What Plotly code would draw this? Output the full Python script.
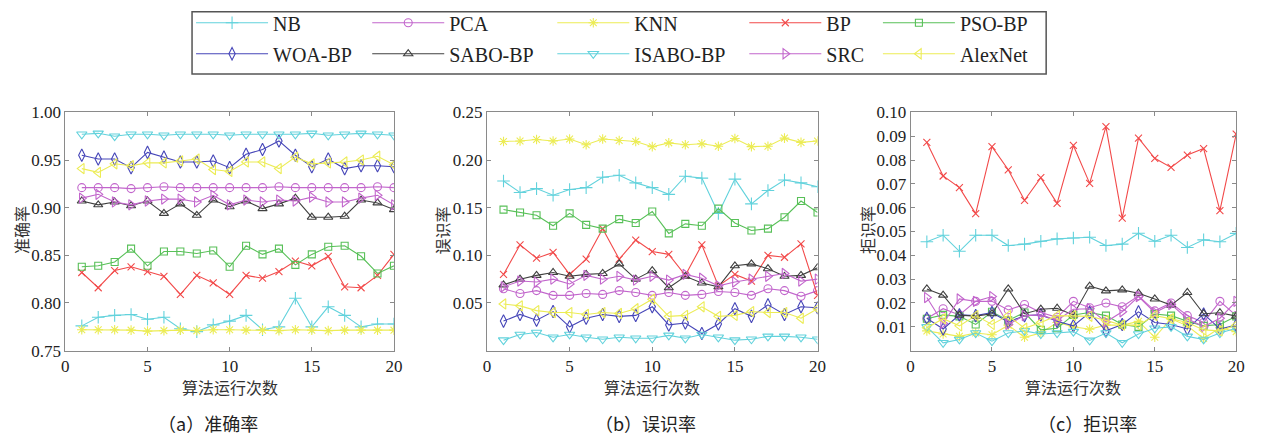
import plotly.graph_objects as go

x_runs = list(range(1, 21))
x_ticks = [0, 5, 10, 15, 20]
x_ticktext = ["0", "5", "10", "15", "20"]
names = ["NB", "PCA", "KNN", "BP", "PSO-BP", "WOA-BP", "SABO-BP", "ISABO-BP", "SRC", "AlexNet"]

# (a) accuracy
acc_NB = [0.776, 0.785, 0.787, 0.788, 0.783, 0.785, 0.773, 0.770, 0.777, 0.781, 0.787, 0.772, 0.775, 0.805, 0.775, 0.796, 0.787, 0.775, 0.778, 0.778]
acc_PCA = [0.921, 0.921, 0.921, 0.920, 0.921, 0.922, 0.921, 0.921, 0.921, 0.921, 0.921, 0.921, 0.922, 0.921, 0.921, 0.921, 0.921, 0.921, 0.922, 0.921]
acc_KNN = [0.772, 0.772, 0.772, 0.7715, 0.7705, 0.771, 0.7715, 0.771, 0.772, 0.772, 0.7715, 0.7715, 0.771, 0.772, 0.7715, 0.771, 0.7715, 0.7715, 0.7715, 0.7715]
acc_BP = [0.832, 0.816, 0.834, 0.838, 0.833, 0.828, 0.809, 0.829, 0.821, 0.809, 0.829, 0.826, 0.833, 0.844, 0.839, 0.849, 0.817, 0.816, 0.829, 0.851]
acc_PSO = [0.838, 0.839, 0.843, 0.857, 0.839, 0.854, 0.854, 0.852, 0.855, 0.838, 0.860, 0.851, 0.857, 0.840, 0.851, 0.859, 0.860, 0.849, 0.831, 0.839]
acc_WOA = [0.955, 0.951, 0.951, 0.942, 0.958, 0.953, 0.948, 0.948, 0.949, 0.942, 0.956, 0.961, 0.970, 0.955, 0.943, 0.951, 0.941, 0.944, 0.944, 0.943]
acc_SABO = [0.907, 0.903, 0.906, 0.902, 0.907, 0.894, 0.904, 0.892, 0.908, 0.901, 0.907, 0.899, 0.904, 0.910, 0.890, 0.890, 0.891, 0.908, 0.905, 0.898]
acc_ISABO = [0.977, 0.978, 0.975, 0.977, 0.977, 0.976, 0.977, 0.977, 0.977, 0.976, 0.977, 0.977, 0.977, 0.977, 0.978, 0.976, 0.977, 0.978, 0.977, 0.976]
acc_SRC = [0.910, 0.914, 0.906, 0.903, 0.907, 0.909, 0.909, 0.906, 0.913, 0.903, 0.908, 0.906, 0.908, 0.907, 0.911, 0.906, 0.906, 0.910, 0.913, 0.903]
acc_Alex = [0.941, 0.937, 0.946, 0.944, 0.947, 0.947, 0.949, 0.951, 0.940, 0.938, 0.948, 0.948, 0.941, 0.953, 0.946, 0.947, 0.948, 0.950, 0.954, 0.945]

# (b) false recognition rate
err_NB = [0.178, 0.166, 0.170, 0.163, 0.169, 0.171, 0.182, 0.184, 0.176, 0.171, 0.164, 0.183, 0.181, 0.144, 0.180, 0.154, 0.168, 0.179, 0.176, 0.172]
err_PCA = [0.065, 0.060, 0.063, 0.058, 0.058, 0.060, 0.059, 0.063, 0.061, 0.058, 0.061, 0.058, 0.059, 0.062, 0.061, 0.058, 0.065, 0.063, 0.057, 0.063]
err_KNN = [0.2195, 0.220, 0.2215, 0.220, 0.222, 0.216, 0.222, 0.2205, 0.2195, 0.214, 0.218, 0.216, 0.217, 0.2145, 0.2225, 0.214, 0.2145, 0.223, 0.2185, 0.220]
err_BP = [0.080, 0.111, 0.097, 0.103, 0.080, 0.096, 0.128, 0.096, 0.116, 0.104, 0.101, 0.079, 0.111, 0.068, 0.080, 0.073, 0.100, 0.098, 0.112, 0.058]
err_PSO = [0.148, 0.145, 0.142, 0.131, 0.144, 0.132, 0.128, 0.138, 0.134, 0.146, 0.123, 0.133, 0.131, 0.149, 0.134, 0.126, 0.128, 0.140, 0.157, 0.145]
err_WOA = [0.031, 0.038, 0.032, 0.041, 0.025, 0.034, 0.038, 0.036, 0.037, 0.046, 0.027, 0.029, 0.018, 0.028, 0.044, 0.036, 0.048, 0.038, 0.046, 0.045]
err_SABO = [0.069, 0.075, 0.079, 0.082, 0.078, 0.080, 0.081, 0.091, 0.075, 0.084, 0.066, 0.078, 0.071, 0.067, 0.089, 0.091, 0.086, 0.078, 0.079, 0.087]
err_ISABO = [0.011, 0.017, 0.019, 0.014, 0.017, 0.014, 0.012, 0.014, 0.013, 0.013, 0.016, 0.013, 0.017, 0.014, 0.011, 0.012, 0.015, 0.015, 0.014, 0.012]
err_SRC = [0.067, 0.073, 0.072, 0.075, 0.070, 0.079, 0.075, 0.078, 0.074, 0.078, 0.074, 0.080, 0.076, 0.068, 0.072, 0.075, 0.078, 0.081, 0.073, 0.075]
err_Alex = [0.049, 0.047, 0.042, 0.040, 0.040, 0.038, 0.040, 0.039, 0.044, 0.054, 0.036, 0.037, 0.046, 0.036, 0.037, 0.041, 0.040, 0.040, 0.034, 0.044]

# (c) rejection rate
rej_NB = [0.0457, 0.0484, 0.0417, 0.0484, 0.0484, 0.0441, 0.0447, 0.0459, 0.0469, 0.0473, 0.0476, 0.0441, 0.0447, 0.0493, 0.0459, 0.0484, 0.0433, 0.0465, 0.0457, 0.0492]
rej_PCA = [0.0135, 0.0176, 0.0150, 0.0207, 0.0207, 0.0171, 0.0194, 0.0160, 0.0140, 0.0207, 0.0180, 0.0200, 0.0184, 0.0230, 0.0167, 0.0200, 0.0147, 0.0118, 0.0207, 0.0147]
rej_KNN = [0.0083, 0.0070, 0.0060, 0.0074, 0.0067, 0.0107, 0.0056, 0.0074, 0.0118, 0.0100, 0.0090, 0.0107, 0.0107, 0.0123, 0.0056, 0.0134, 0.0104, 0.0051, 0.0096, 0.0080]
rej_BP = [0.0874, 0.0733, 0.0684, 0.0575, 0.0856, 0.0759, 0.0631, 0.0726, 0.0618, 0.0861, 0.0702, 0.0940, 0.0556, 0.0892, 0.0807, 0.0769, 0.0821, 0.0848, 0.0588, 0.0909]
rej_PSO = [0.0134, 0.0150, 0.0144, 0.0110, 0.0163, 0.0127, 0.0160, 0.0087, 0.0094, 0.0150, 0.0160, 0.0147, 0.0110, 0.0100, 0.0154, 0.0147, 0.0123, 0.0104, 0.0110, 0.0144]
rej_WOA = [0.0136, 0.0091, 0.0150, 0.0147, 0.0160, 0.0120, 0.0147, 0.0150, 0.0123, 0.0104, 0.0160, 0.0083, 0.0110, 0.0163, 0.0118, 0.0110, 0.0091, 0.0154, 0.0091, 0.0107]
rej_SABO = [0.0259, 0.0233, 0.0149, 0.0145, 0.0155, 0.0259, 0.0155, 0.0174, 0.0178, 0.0150, 0.0271, 0.0251, 0.0255, 0.0241, 0.0217, 0.0191, 0.0244, 0.0155, 0.0159, 0.0145]
rej_ISABO = [0.0100, 0.0033, 0.0047, 0.0074, 0.0040, 0.0074, 0.0083, 0.0070, 0.0074, 0.0080, 0.0043, 0.0074, 0.0033, 0.0070, 0.0094, 0.0100, 0.0060, 0.0047, 0.0074, 0.0094]
rej_SRC = [0.0223, 0.0114, 0.0217, 0.0207, 0.0227, 0.0110, 0.0147, 0.0150, 0.0127, 0.0174, 0.0176, 0.0120, 0.0163, 0.0227, 0.0160, 0.0194, 0.0134, 0.0100, 0.0136, 0.0207]
rej_Alex = [0.0096, 0.0134, 0.0104, 0.0147, 0.0110, 0.0147, 0.0094, 0.0118, 0.0147, 0.0147, 0.0144, 0.0127, 0.0107, 0.0107, 0.0147, 0.0134, 0.0118, 0.0087, 0.0083, 0.0107]

acc_ticks = [0.75, 0.80, 0.85, 0.90, 0.95, 1.00]
acc_ticktext = ["0.75", "0.80", "0.85", "0.90", "0.95", "1.00"]
err_ticks = [0.05, 0.10, 0.15, 0.20, 0.25]
err_ticktext = ["0.05", "0.10", "0.15", "0.20", "0.25"]
rej_ticks = [0.01, 0.02, 0.03, 0.04, 0.05, 0.06, 0.07, 0.08, 0.09, 0.10]
rej_ticktext = ["0.01", "0.02", "0.03", "0.04", "0.05", "0.06", "0.07", "0.08", "0.09", "0.10"]

acc_series = [acc_NB, acc_PCA, acc_KNN, acc_BP, acc_PSO, acc_WOA, acc_SABO, acc_ISABO, acc_SRC, acc_Alex]
err_series = [err_NB, err_PCA, err_KNN, err_BP, err_PSO, err_WOA, err_SABO, err_ISABO, err_SRC, err_Alex]
rej_series = [rej_NB, rej_PCA, rej_KNN, rej_BP, rej_PSO, rej_WOA, rej_SABO, rej_ISABO, rej_SRC, rej_Alex]

colors = ["#62d2dc", "#c266cc", "#ecec55", "#f24a4a", "#58c058", "#4646b8", "#404040", "#62d2dc", "#c266cc", "#ecec55"]
symbols = ["cross-thin-open", "circle-open", "asterisk-open", "x-thin-open", "square-open",
           "diamond-tall-open", "triangle-up-open", "triangle-down-open", "triangle-right-open", "triangle-left-open"]
sizes = [9, 8, 8, 7, 7, 9, 8, 9, 9, 9]

SERIF = "Times New Roman, Liberation Serif, serif"
CJK = "Noto Sans CJK SC"
W, H = 1263, 442

fig = go.Figure()
axes = [("x", "y", acc_series), ("x2", "y2", err_series), ("x3", "y3", rej_series)]
legend_ids = ["legend", "legend2", "legend3", "legend4", "legend5"]
for k, (xa, ya, series) in enumerate(axes):
    for i, name in enumerate(names):
        fig.add_trace(go.Scatter(
            x=x_runs, y=series[i], name=name, mode="lines+markers",
            xaxis=xa, yaxis=ya, legendgroup=name, showlegend=(k == 0),
            legend=legend_ids[i % 5],
            line=dict(color=colors[i], width=1.1),
            marker=dict(symbol=symbols[i], size=sizes[i], color=colors[i],
                        line=dict(color=colors[i], width=1.1)),
        ))

ydom = [1 - 357 / H, 1 - 108 / H]
xdoms = [[62 / W, 394 / W], [488 / W, 822 / W], [916 / W, 1245 / W]]
yranges = [[0.75, 1.0], [0, 0.25], [0, 0.10]]
yticks = [acc_ticks, err_ticks, rej_ticks]
yticktexts = [acc_ticktext, err_ticktext, rej_ticktext]

common = dict(showline=True, linecolor="#8a8a8a", linewidth=1, mirror="ticks", ticks="inside",
              ticklen=4, tickcolor="#8a8a8a", showgrid=False, zeroline=False,
              tickfont=dict(family=SERIF, size=17, color="#222"))
layout_axes = {}
for k in range(3):
    suf = "" if k == 0 else str(k + 1)
    layout_axes["xaxis" + suf] = dict(domain=xdoms[k], range=[0, 20], tickvals=x_ticks,
                                      ticktext=x_ticktext, anchor="y" + suf, **common)
    layout_axes["yaxis" + suf] = dict(domain=ydom, range=yranges[k], tickvals=yticks[k],
                                      ticktext=yticktexts[k], anchor="x" + suf, **common)

annotations = []
ytitles = ["准确率", "误识率", "拒识率"]
ytitle_x = [17, 443, 872]
subtitles = ["（a）准确率", "（b）误识率", "（c）拒识率"]
sub_x = [206, 648, 1095]
for k in range(3):
    xc = (xdoms[k][0] + xdoms[k][1]) / 2
    annotations.append(dict(text="算法运行次数", x=xc, y=1 - 395 / H, xref="paper", yref="paper",
                            xanchor="center", yanchor="middle",
                            showarrow=False, font=dict(family=CJK, size=16, color="#333")))
    annotations.append(dict(text=ytitles[k], x=ytitle_x[k] / W, y=1 - 231 / H, xref="paper",
                            yref="paper", textangle=-90, showarrow=False,
                            xanchor="center", yanchor="middle",
                            font=dict(family=CJK, size=16, color="#333")))
    annotations.append(dict(text=subtitles[k], x=sub_x[k] / W, y=1 - 433 / H, xref="paper",
                            yref="paper", showarrow=False, xanchor="center", yanchor="middle",
                            font=dict(family=CJK, size=18, color="#222")))

# legend frame
shapes = [dict(type="rect", xref="paper", yref="paper", x0=190 / W, x1=1053 / W,
               y0=1 - 68 / H, y1=1 - 3 / H, line=dict(color="#555", width=1.5),
               fillcolor="rgba(0,0,0,0)", layer="below")]

col_line_start = [195, 373, 560, 754, 889]
legend_layouts = {}
for j, lid in enumerate(legend_ids):
    legend_layouts[lid] = dict(
        orientation="v", x=(col_line_start[j] - 6) / W, y=1 + 6 / H,
        xanchor="left", yanchor="top", bgcolor="rgba(0,0,0,0)", borderwidth=0,
        itemwidth=72, tracegroupgap=2,
        font=dict(family=SERIF, size=20, color="#222"),
    )

fig.update_layout(
    width=W, height=H, margin=dict(l=0, r=0, t=0, b=0),
    paper_bgcolor="white", plot_bgcolor="white",
    annotations=annotations, shapes=shapes,
    **legend_layouts,
    **layout_axes,
)

fig.write_html("out.html")
